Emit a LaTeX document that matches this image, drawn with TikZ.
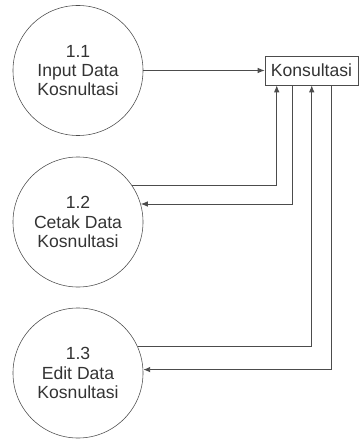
\documentclass[tikz,border=0pt]{standalone}
\usepackage{fontspec}
\setmainfont{Liberation Sans}
\usetikzlibrary{arrows.meta}
\begin{document}
\begin{tikzpicture}[x=.025cm,y=-.025cm,>={Latex[length=5pt,width=4pt]},
    font=\fontsize{12.5}{13.6}\selectfont,
    proc/.style={circle,draw=black!70,minimum size=3.25cm,inner sep=0pt,align=center,text=black!80},
    store/.style={rectangle,draw=black!70,minimum width=2.325cm,minimum height=.725cm,inner sep=0pt,text=black!80},
    flow/.style={->,draw=black!70,line width=.7pt}]
  \useasboundingbox (0,0) rectangle (360,439);
  % processes
  \node[proc] (c11) at (78,70.5) {1.1\\Input Data\\Kosnultasi};
  \node[proc] (c12) at (78,222) {1.2\\Cetak Data\\Kosnultasi};
  \node[proc] (c13) at (78,373) {1.3\\Edit Data\\Kosnultasi};
  % data store
  \node[store] (kons) at (311.5,70.5) {Konsultasi};
  % flows
  \draw[flow] (c11.east) -- (c11.east -| kons.west);
  \draw[flow] (c12.34) -| ([xshift=.3cm]kons.south west);
  \draw[flow] ([xshift=.7cm]kons.south west) |- (c12.16);
  \draw[flow] (c13.24) -| ([xshift=1.175cm]kons.south west);
  \draw[flow] ([xshift=1.675cm]kons.south west) |- (c13.3);
\end{tikzpicture}
\end{document}
